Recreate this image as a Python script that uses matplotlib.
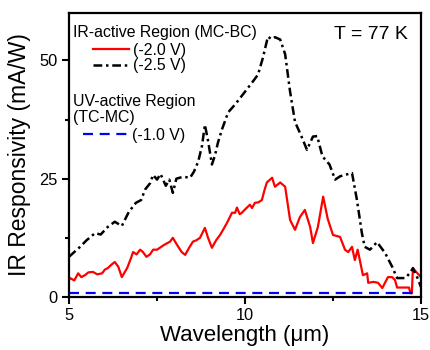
import matplotlib
matplotlib.use("Agg")
import matplotlib.pyplot as plt

plt.rcParams['font.family'] = ['Liberation Sans', 'DejaVu Sans']

# -2.5 V (IR-active, MC-BC)
wl_25 = [5.0, 5.06, 5.3, 5.5, 5.74, 5.9, 6.1, 6.3, 6.5, 6.7, 6.9, 7.05, 7.16, 7.3, 7.39,
         7.5, 7.6, 7.75, 7.85, 7.95, 8.05, 8.24, 8.44, 8.55, 8.67, 8.78, 8.86, 8.95, 9.06,
         9.15, 9.23, 9.35, 9.52, 9.72, 9.94, 10.2, 10.37, 10.51, 10.65, 10.75, 10.85, 11.0,
         11.14, 11.28, 11.42, 11.6, 11.76, 11.93, 12.05, 12.2, 12.4, 12.56, 12.7, 12.84,
         13.04, 13.18, 13.32, 13.4, 13.55, 13.75, 13.98, 14.18, 14.32, 14.55, 14.69, 14.77,
         14.9, 15.0]
resp_25 = [8.5, 8.9, 10.5, 12.0, 13.5, 13.2, 14.8, 15.9, 15.0, 18.0, 19.9, 20.5, 22.7, 24.0, 25.8,
           24.8, 26.0, 23.5, 24.8, 22.0, 25.0, 25.4, 25.2, 26.5, 28.6, 32.0, 36.4, 33.0, 28.0,
           30.0, 32.6, 35.5, 39.0, 40.7, 42.8, 45.3, 47.0, 50.6, 55.0, 54.5, 54.9, 54.4,
           51.3, 43.4, 37.0, 34.0, 31.1, 33.9, 34.0, 29.7, 28.0, 24.8, 25.5, 25.8,
           26.2, 20.5, 13.5, 10.6, 10.0, 11.6, 9.3, 6.4, 4.0, 4.0, 5.1, 6.1,
           4.0, 2.1]

# -2.0 V (IR-active, MC-BC)
wl_20 = [5.0, 5.03, 5.15, 5.26, 5.35, 5.45, 5.55, 5.68, 5.8, 5.94, 6.02, 6.1, 6.2, 6.3, 6.4,
         6.5, 6.65, 6.75, 6.82, 6.92, 7.02, 7.1, 7.2, 7.3, 7.39, 7.5, 7.58, 7.7, 7.87, 7.95,
         8.07, 8.2, 8.3, 8.42, 8.52, 8.62, 8.72, 8.86, 8.95, 9.06, 9.18, 9.29, 9.4, 9.49,
         9.63, 9.72, 9.77, 9.85, 9.91, 10.0, 10.14, 10.2, 10.28, 10.38, 10.48, 10.55, 10.62,
         10.77, 10.85, 11.0, 11.14, 11.28, 11.42, 11.56, 11.7, 11.85, 11.93, 12.07, 12.22,
         12.35, 12.5, 12.7, 12.84, 12.93, 13.04, 13.12, 13.2, 13.35, 13.47, 13.5, 13.65,
         13.78, 13.9, 14.06, 14.18, 14.26, 14.32, 14.66, 14.70, 14.74, 14.77, 14.9, 15.0]
resp_20 = [3.6, 4.0, 3.5, 5.0, 4.2, 4.6, 5.2, 5.3, 4.8, 5.0, 5.8, 6.1, 6.8, 7.4, 6.4,
           4.2, 6.1, 8.0, 9.5, 9.0, 10.0, 9.5, 8.5, 9.0, 10.0, 10.0, 10.4, 11.0, 11.7, 12.5,
           11.0, 9.5, 8.9, 10.5, 11.7, 12.0, 12.5, 14.6, 12.5, 10.4, 12.0, 13.1, 14.5, 15.7,
           17.8, 17.8, 18.9, 17.5, 17.8, 18.5, 19.5, 18.8, 19.9, 20.0, 20.5, 22.5, 24.2,
           25.2, 23.3, 24.2, 23.3, 16.3, 14.2, 16.9, 18.4, 14.8, 11.4, 14.8, 21.2,
           16.5, 13.1, 12.7, 10.0, 9.5, 10.6, 7.8, 10.0, 4.6, 5.0, 3.0, 3.2,
           3.0, 1.9, 4.2, 4.2, 3.6, 2.0, 2.0, 0.8, 0.8, 6.1, 5.0, 4.2]

# -1.0 V (UV-active, TC-MC)
wl_10 = [5.0, 14.9]
resp_10 = [0.9, 0.9]

x_ticks = [5, 10, 15]
y_ticks = [0, 25, 50]

fig = plt.figure(figsize=(4.3, 3.5), dpi=100)
ax = fig.add_axes([0.1605, 0.1514, 0.8186, 0.8114])

l_red, = ax.plot(wl_20, resp_20, color='#ff0000', lw=1.6)
l_blk, = ax.plot(wl_25, resp_25, color='black', lw=1.8, dashes=(3.5, 1.5, 1, 1.5))
l_blu, = ax.plot(wl_10, resp_10, color='#0000ff', lw=1.6, dashes=(4.5, 3))

ax.set_xlim(5, 15)
ax.set_ylim(0, 60)
ax.set_xticks(x_ticks)
ax.set_yticks(y_ticks)
ax.set_xticks([7.5, 12.5], minor=True)
ax.set_yticks([12.5, 37.5], minor=True)
ax.tick_params(which='major', direction='out', length=5, width=1.5, labelsize=11.8, pad=3)
ax.tick_params(which='minor', direction='out', length=3, width=1.5)
for s in ax.spines.values():
    s.set_linewidth(1.6)

ax.set_xlabel('Wavelength (\u03bcm)', fontsize=16, labelpad=1)
ax.set_ylabel('IR Responsivity (mA/W)', fontsize=16.5, labelpad=6)

ax.text(0.01, 0.93, 'IR-active Region (MC-BC)', transform=ax.transAxes,
        fontsize=11.4, ha='left', va='center')
ax.text(0.01, 0.66, 'UV-active Region\n(TC-MC)', transform=ax.transAxes,
        fontsize=11.4, ha='left', va='center', linespacing=1.15)
ax.text(0.963, 0.926, 'T = 77 K', transform=ax.transAxes,
        fontsize=14, ha='right', va='center')

leg1 = ax.legend([l_red, l_blk], ['(-2.0 V)', '(-2.5 V)'], loc='upper left',
                 bbox_to_anchor=(0.068, 0.895), frameon=False, fontsize=11.4,
                 handlelength=2.3, handletextpad=0.2, borderpad=0, borderaxespad=0,
                 labelspacing=0.02)
ax.add_artist(leg1)
leg2 = ax.legend([l_blu], ['(-1.0 V)'], loc='upper left',
                 bbox_to_anchor=(0.04, 0.595), frameon=False, fontsize=11.4,
                 handlelength=2.9, handletextpad=0.2, borderpad=0, borderaxespad=0)

fig.savefig('out.png', dpi=100)
